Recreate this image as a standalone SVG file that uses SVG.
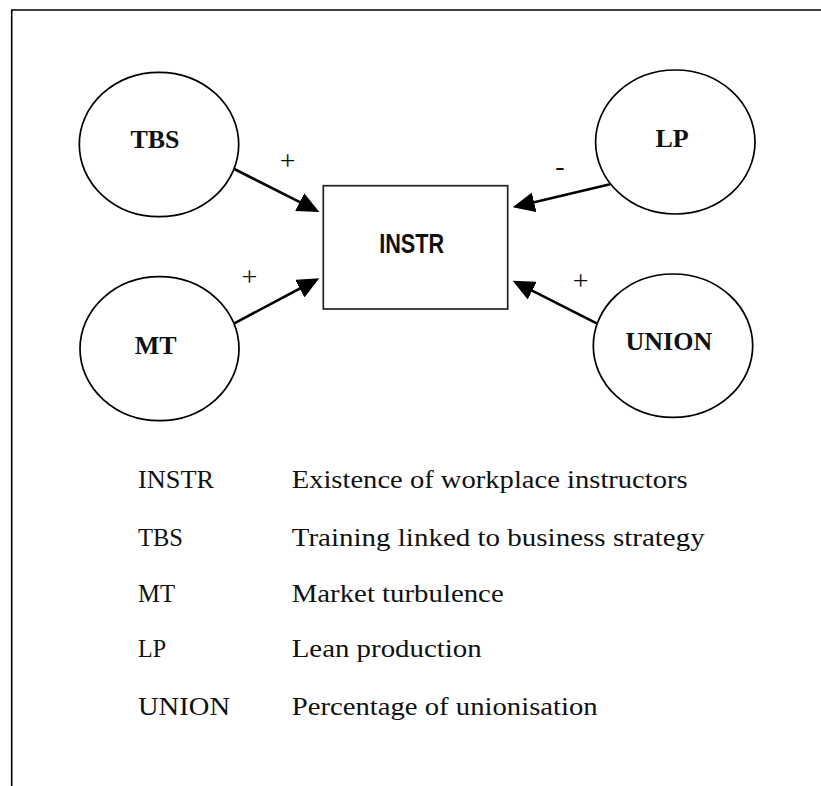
<svg xmlns="http://www.w3.org/2000/svg" width="821" height="786" viewBox="0 0 821 786">
  <style>
    .frame { fill: none; stroke: #000; stroke-width: 1.6; }
    .node { fill: #fff; stroke: #000; stroke-width: 1.7; }
    .box { fill: #fff; stroke: #222; stroke-width: 1.7; }
    .lbl { font-family: "Liberation Serif", "Times New Roman", serif; font-weight: bold; font-size: 26px; text-anchor: middle; fill: #111; }
    .boxlbl { font-family: "Liberation Sans", Arial, sans-serif; font-weight: bold; font-size: 27px; text-anchor: middle; fill: #111; }
    .edge { stroke: #000; stroke-width: 2.6; fill: none; marker-end: url(#head); }
    .sign { font-family: "Liberation Serif", "Times New Roman", serif; font-size: 28px; text-anchor: middle; fill: #111; }
    .key { font-family: "Liberation Serif", "Times New Roman", serif; font-size: 26px; fill: #111; }
  </style>
  <defs>
    <marker id="head" markerUnits="userSpaceOnUse" markerWidth="22" markerHeight="20" refX="14" refY="10" orient="auto">
      <path d="M0,0 L22,10 L0,20 z" fill="#000"/>
    </marker>
  </defs>

  <rect width="821" height="786" fill="#fff"/>
  <!-- outer frame, running off the right and bottom edges -->
  <path class="frame" d="M11.7,786 V10 H821"/>

  <g id="connectors">
    <line class="edge" x1="234.3" y1="169" x2="312.2" y2="208.4"/>
    <line class="edge" x1="234.3" y1="323.3" x2="312.2" y2="282"/>
    <line class="edge" x1="610" y1="184.3" x2="520.5" y2="205.5"/>
    <line class="edge" x1="596.7" y1="323.3" x2="519.8" y2="284.3"/>
    <text class="sign" x="287.7" y="169.5">+</text>
    <text class="sign" x="249.3" y="286">+</text>
    <text class="sign" x="560" y="175">-</text>
    <text class="sign" x="580.7" y="289.5">+</text>
  </g>

  <g id="TBS">
    <ellipse class="node" cx="159" cy="144.5" rx="79.7" ry="72.2"/>
    <text class="lbl" x="155" y="148.3">TBS</text>
  </g>
  <g id="LP">
    <ellipse class="node" cx="675.3" cy="142" rx="79.7" ry="72"/>
    <text class="lbl" x="672" y="146.7">LP</text>
  </g>
  <g id="MT">
    <ellipse class="node" cx="159.5" cy="348.7" rx="79.5" ry="72"/>
    <text class="lbl" x="155.7" y="354.3">MT</text>
  </g>
  <g id="UNION">
    <ellipse class="node" cx="673" cy="345.7" rx="79.7" ry="71.7"/>
    <text class="lbl" x="668.9" y="350">UNION</text>
  </g>
  <g id="INSTR">
    <rect class="box" x="323.3" y="185.7" width="184.4" height="123.3"/>
    <text class="boxlbl" x="411.7" y="252.7" textLength="65" lengthAdjust="spacingAndGlyphs">INSTR</text>
  </g>

  <g id="legend">
    <text class="key" x="138" y="488" textLength="76" lengthAdjust="spacingAndGlyphs">INSTR</text>
    <text class="key" x="291.7" y="488" textLength="396" lengthAdjust="spacingAndGlyphs">Existence of workplace instructors</text>
    <text class="key" x="138" y="546" textLength="45" lengthAdjust="spacingAndGlyphs">TBS</text>
    <text class="key" x="291.7" y="546" textLength="413" lengthAdjust="spacingAndGlyphs">Training linked to business strategy</text>
    <text class="key" x="138" y="602" textLength="37" lengthAdjust="spacingAndGlyphs">MT</text>
    <text class="key" x="291.7" y="602" textLength="212" lengthAdjust="spacingAndGlyphs">Market turbulence</text>
    <text class="key" x="138" y="657" textLength="28" lengthAdjust="spacingAndGlyphs">LP</text>
    <text class="key" x="291.7" y="657" textLength="190" lengthAdjust="spacingAndGlyphs">Lean production</text>
    <text class="key" x="138" y="715" textLength="92" lengthAdjust="spacingAndGlyphs">UNION</text>
    <text class="key" x="291.7" y="715" textLength="306" lengthAdjust="spacingAndGlyphs">Percentage of unionisation</text>
  </g>
</svg>
